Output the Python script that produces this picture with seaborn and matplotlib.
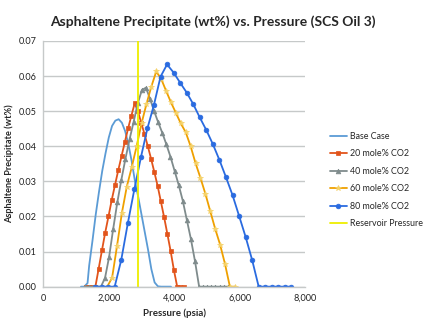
import matplotlib
matplotlib.use('Agg')
import matplotlib.pyplot as plt
import matplotlib.ticker as mticker
import seaborn as sns

# data (pressure in psia, precipitate in wt%)
base_p = [1150, 1250, 1350, 1400, 1500, 1600, 1700, 1800, 1900, 2000, 2100, 2200, 2300,
          2400, 2500, 2600, 2700, 2800, 2900, 3000, 3100, 3200, 3300, 3400, 3500,
          3600, 3700, 3800, 3900]
base_wt = [0, 0, 0.001, 0.006, 0.013, 0.0205, 0.027, 0.033, 0.038, 0.0425, 0.0458, 0.0473, 0.0477,
           0.0467, 0.0443, 0.0405, 0.0357, 0.030, 0.0255, 0.0205, 0.0155, 0.0105, 0.005, 0.0012, 0.0001,
           0, 0, 0, 0]

co2_20_p = [1290, 1390, 1490, 1590, 1690, 1790, 1890, 1990, 2090, 2190, 2290, 2390, 2490,
            2590, 2690, 2790, 2890, 2990, 3090, 3190, 3290, 3390, 3490, 3590, 3690,
            3790, 3890, 3990, 4090, 4190, 4290]
co2_20_wt = [0, 0, 0, 0, 0.0051, 0.0103, 0.0154, 0.020, 0.0247, 0.029, 0.0332, 0.0372, 0.0412,
             0.0451, 0.0487, 0.0522, 0.050, 0.0467, 0.0435, 0.0401, 0.0365, 0.0327, 0.0288, 0.0243, 0.0198,
             0.015, 0.0101, 0.0047, 0, 0, 0]

co2_40_p = [1260, 1385, 1510, 1635, 1760, 1885, 2010, 2135, 2260, 2385, 2510, 2635, 2760,
            2885, 3010, 3135, 3260, 3385, 3510, 3635, 3760, 3885, 4010, 4135, 4260,
            4385, 4510, 4635, 4760, 4885, 5010, 5135, 5260, 5385, 5510, 5635]
co2_40_wt = [0, 0, 0, 0, 0, 0.0025, 0.0085, 0.0165, 0.024, 0.0305, 0.0365, 0.042, 0.047,
             0.0522, 0.056, 0.0567, 0.0535, 0.050, 0.0468, 0.0438, 0.0405, 0.037, 0.033, 0.029, 0.0245,
             0.019, 0.0135, 0.0072, 0, 0, 0, 0, 0, 0, 0, 0]

co2_60_p = [1950, 2100, 2250, 2400, 2550, 2700, 2850, 3000, 3150, 3300, 3450, 3600, 3750,
            3900, 4050, 4200, 4350, 4500, 4650, 4800, 4950, 5100, 5250, 5400, 5550,
            5700, 5850]
co2_60_wt = [0, 0.0025, 0.0115, 0.021, 0.0285, 0.034, 0.040, 0.0465, 0.052, 0.057, 0.0613, 0.0592, 0.0558,
             0.0525, 0.0495, 0.0465, 0.044, 0.040, 0.0352, 0.031, 0.0265, 0.0215, 0.0165, 0.012, 0.0065,
             0, 0]

co2_80_p = [1580, 1780, 1980, 2180, 2380, 2580, 2780, 2980, 3180, 3380, 3580, 3780, 3980,
            4180, 4380, 4580, 4780, 4980, 5180, 5380, 5580, 5780, 5980, 6180, 6380,
            6580, 6780, 6980, 7180, 7380, 7580]
co2_80_wt = [0, 0, 0, 0, 0.0076, 0.018, 0.0277, 0.0368, 0.0451, 0.0518, 0.0598, 0.0633, 0.061,
             0.0581, 0.0553, 0.052, 0.0482, 0.0446, 0.0406, 0.0361, 0.0312, 0.0261, 0.0202, 0.0142, 0.0076,
             0, 0, 0, 0, 0, 0]

reservoir_p = [2900, 2900]
reservoir_wt = [0, 0.07]

sns.set_style('white')
plt.rcParams['font.family'] = ['Lato', 'DejaVu Sans']

fig = plt.figure(figsize=(4.25, 3.25), dpi=100)
ax = fig.add_axes([0.102, 0.118, 0.616, 0.756])

series = [
    ('Base Case', base_p, base_wt, '#5B9BD5', None, 0, None),
    ('20 mole% CO2', co2_20_p, co2_20_wt, '#E2541B', 's', 3.2, '#E2541B'),
    ('40 mole% CO2', co2_40_p, co2_40_wt, '#7F8B8C', '^', 3.4, '#7F8B8C'),
    ('60 mole% CO2', co2_60_p, co2_60_wt, '#EFA000', '*', 3.8, '#F5D26A'),
    ('80 mole% CO2', co2_80_p, co2_80_wt, '#2A6BE0', 'o', 3.4, '#2A6BE0'),
    ('Reservoir Pressure', reservoir_p, reservoir_wt, '#EEEE00', None, 0, None),
]

for name, xs, ys, col, mk, ms, mfc in series:
    sns.lineplot(x=xs, y=ys, ax=ax, color=col, lw=1.3, marker=mk, markersize=ms,
                 markerfacecolor=mfc, markeredgecolor=mfc, markeredgewidth=0.5,
                 estimator=None, sort=False, label=name)

ax.set_xlim(0, 8000)
ax.set_ylim(0, 0.07)
ax.set_xticks([0, 2000, 4000, 6000, 8000])
ax.set_yticks([0, 0.01, 0.02, 0.03, 0.04, 0.05, 0.06, 0.07])
ax.xaxis.set_major_formatter(mticker.FuncFormatter(lambda v, _: f'{int(v):,}'))
ax.yaxis.set_major_formatter(mticker.FormatStrFormatter('%.2f'))
ax.tick_params(length=0, labelsize=6.6, pad=5, colors='#222222')
ax.yaxis.grid(True, color='#c6c9c9', lw=1)
ax.set_axisbelow(True)
for s in ['top', 'right']:
    ax.spines[s].set_visible(False)
for s in ['left', 'bottom']:
    ax.spines[s].set_color('#c6c9c9')
    ax.spines[s].set_linewidth(1)

ax.set_xlabel('Pressure (psia)', fontsize=7, fontweight='bold', labelpad=4)
ax.set_ylabel('Asphaltene Precipitate (wt%)', fontsize=6.6, fontweight='bold', labelpad=3)
fig.text(0.5, 0.932, 'Asphaltene Precipitate (wt%) vs. Pressure (SCS Oil 3)',
         ha='center', va='center', fontsize=10, fontweight='bold')

ax.legend(loc='center left', bbox_to_anchor=(1.095, 0.434), frameon=False, fontsize=6.4,
          handlelength=1.9, handletextpad=0.35, labelspacing=0.95, borderaxespad=0, borderpad=0)

fig.savefig('out.png', dpi=100)
